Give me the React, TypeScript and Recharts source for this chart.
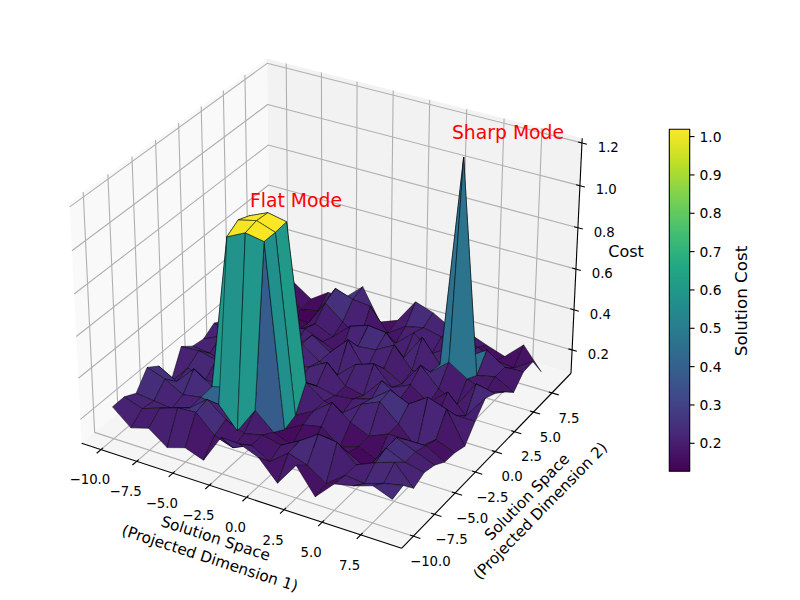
import React from "react";
import { ScatterChart, Scatter, XAxis, YAxis } from "recharts";

// ---- data ----
const gridX = [-10, -8.75, -7.5, -6.25, -5, -3.75, -2.5, -1.25, 0, 1.25, 2.5, 3.75, 5, 6.25, 7.5, 8.75];
const gridY = [-10, -8.75, -7.5, -6.25, -5, -3.75, -2.5, -1.25, 0, 1.25, 2.5, 3.75, 5, 6.25, 7.5, 8.75];
// one row per gridY value, one column per gridX value
const costRows = [
  [.239, .164, .19, .124, .152, .12, .26, .256, .22, .125, .24, .118, .21, .23, .26, .225],
  [.24, .21, .24, .27, .275, .19, .16, .2, .15, .22, .19, .13, .2, .19, .22, .24],
  [.21, .2, .19, .22, .29, .22, .18, .2, .18, .23, .29, .28, .2, .24, .27, .175],
  [.29, .26, .21, .225, .217, .115, .245, .165, .13, .14, .22, .18, .13, .26, .22, .2],
  [.25, .2, .29, .23, .973, 1.016, 1.0, .13, .18, .2, .13, .16, .12, .26, .22, .185],
  [.124, .22, .19, .18, 1.009, 1.03, 1.0, .15, .2, .27, .2, .16, .2, .2, .2, .15],
  [.254, .26, .24, .18, .987, 1.025, 1.007, .265, .2, .17, .24, .28, .2, .11, .18, .145],
  [.21, .2, .17, .24, .22, .24, .2, .2, .18, .19, .22, .29, .25, .31, .28, .127],
  [.2, .24, .2, .16, .28, .2, .22, .27, .18, .16, .26, .2, .14, .17, .2, .2],
  [.235, .18, .26, .2, .22, .26, .2, .16, .24, .27, .18, .22, .16, .24, .15, .265],
  [.2, .22, .18, .24, .17, .26, .2, .29, .16, .2, .15, .27, .18, .13, .26, .24],
  [.2, .17, .24, .2, .22, .18, .14, .21, .22, .27, .17, .19, .266, .21, .17, .2],
  [.2, .22, .18, .14, .2, .16, .24, .27, .26, .16, .29, .18, 1.203, .18, .2, .15],
  [.2, .18, .14, .13, .26, .19, .13, .2, .16, .24, .16, .22, .2, .26, .2, .205],
  [.18, .22, .13, .15, .29, .26, .25, .14, .2, .22, .2, .2, .2, .16, .15, .21],
  [.2, .2, .14, .2, .2, .28, .125, .16, .28, .25, .2, .2, .165, .135, .22, .112],
];
const xTicks = [-10, -7.5, -5, -2.5, 0, 2.5, 5, 7.5];
const yTicks = [-10, -7.5, -5, -2.5, 0, 2.5, 5, 7.5];
const zTicks = [0.2, 0.4, 0.6, 0.8, 1.0, 1.2];
const colorbarTicks = [0.2, 0.3, 0.4, 0.5, 0.6, 0.7, 0.8, 0.9, 1.0];
const viridisStops = ["#440154", "#482475", "#414487", "#355f8d", "#2a788e", "#21918c", "#22a884", "#44bf70", "#7ad151", "#bddf26", "#fde725"];
const colorMin = 0.127;
const colorMax = 1.019;
const xLim = [-10.9375, 9.6875];
const yLim = [-10.9375, 9.6875];
const zLim = [0.105, 1.199];

// ---- layout ----
const FONT = "'DejaVu Sans', sans-serif";
const SCALE = 2955, CX = 331, CY = 291.3;
const BOX = [1.19048, 1.19048, 0.89286];
const U = [0.866025, 0.5, 0];
const V = [-0.25, 0.433013, 0.866025];
const W = [0.433013, -0.75, 0.5];
const CB = { left: 669.3, right: 689.7, top: 129.3, bottom: 471.3 };

type P = { sx: number; sy: number; [k: string]: any };

const rel = (v: number, lim: number[], box: number) => ((v - lim[0]) / (lim[1] - lim[0]) - 0.5) * box;
const dot = (a: number[], b: number[]) => a[0] * b[0] + a[1] * b[1] + a[2] * b[2];
const toView = (x: number, y: number, z: number) => [rel(x, xLim, BOX[0]), rel(y, yLim, BOX[1]), rel(z, zLim, BOX[2])];
const project = (x: number, y: number, z: number): P => {
  const p = toView(x, y, z);
  const d = 10 - dot(W, p);
  return { sx: CX + (SCALE * dot(U, p)) / d, sy: CY - (SCALE * dot(V, p)) / d };
};
const depth = (x: number, y: number, z: number) => dot(W, toView(x, y, z));

const pad = (lim: number[]) => (lim[1] - lim[0]) / 48;
const x0 = xLim[0] - pad(xLim), x1 = xLim[1] + pad(xLim);
const y0 = yLim[0] - pad(yLim), y1 = yLim[1] + pad(yLim);
const z0 = zLim[0] - pad(zLim), z1 = zLim[1] + pad(zLim);
const tdx = (x1 - x0) / 12, tdy = (y1 - y0) / 12;

const viridis = (t: number) => {
  const c = Math.max(0, Math.min(1, t)) * (viridisStops.length - 1);
  const i = Math.min(viridisStops.length - 2, Math.floor(c));
  const f = c - i;
  const parse = (h: string) => [1, 3, 5].map((k) => parseInt(h.slice(k, k + 2), 16));
  const a = parse(viridisStops[i]), b = parse(viridisStops[i + 1]);
  return `rgb(${a.map((v, k) => Math.round(v + (b[k] - v) * f)).join(",")})`;
};

const noPoint = () => <g />;

const Shape = (key: string, pts: P[], o: { fill?: string; stroke?: string; sw?: number; so?: number; close?: boolean; grad?: boolean }) => (
  <Scatter
    key={key}
    data={pts}
    isAnimationActive={false}
    shape={noPoint}
    line={(p: any) => {
      const str = p.points.map((q: any) => `${q.x},${q.y}`).join(" ");
      const common = { points: str, stroke: o.stroke ?? "none", strokeWidth: o.sw ?? 1, strokeOpacity: o.so ?? 1, strokeLinejoin: "round" as const };
      if (o.grad) {
        return (
          <g>
            <defs>
              <linearGradient id="cbGradient" x1="0" y1="1" x2="0" y2="0">
                {viridisStops.map((c, i) => (
                  <stop key={c} offset={i / (viridisStops.length - 1)} stopColor={c} />
                ))}
              </linearGradient>
            </defs>
            <polygon {...common} fill="url(#cbGradient)" />
          </g>
        );
      }
      return o.close ? <polygon {...common} fill={o.fill ?? "none"} /> : <polyline {...common} fill="none" />;
    }}
  />
);

const Texts = (key: string, items: P[], o: { size: number; color?: string; anchor?: string }) => (
  <Scatter
    key={key}
    data={items}
    isAnimationActive={false}
    shape={(p: any) => (
      <text
        x={p.cx}
        y={p.cy}
        dy=".36em"
        fontFamily={FONT}
        fontSize={o.size}
        fill={o.color ?? "#000"}
        textAnchor={(o.anchor ?? "middle") as any}
        transform={p.payload.rot ? `rotate(${p.payload.rot} ${p.cx} ${p.cy})` : undefined}
      >
        {p.payload.label}
      </text>
    )}
  />
);

const fmt = (v: number) => v.toFixed(1).replace("-", "\u2212");

// panes
const paneX = [project(x0, y0, z0), project(x0, y1, z0), project(x0, y1, z1), project(x0, y0, z1)];
const paneY = [project(x0, y1, z0), project(x1, y1, z0), project(x1, y1, z1), project(x0, y1, z1)];
const paneZ = [project(x0, y0, z0), project(x1, y0, z0), project(x1, y1, z0), project(x0, y1, z0)];

// surface faces, far to near
const faces: { pts: P[]; fill: string; depth: number }[] = [];
for (let j = 0; j < gridY.length - 1; j++) {
  for (let i = 0; i < gridX.length - 1; i++) {
    const c = [[i, j], [i + 1, j], [i + 1, j + 1], [i, j + 1]];
    const zs = c.map(([a, b]) => costRows[b][a]);
    const avg = zs.reduce((s, v) => s + v, 0) / 4;
    faces.push({
      pts: c.map(([a, b]) => project(gridX[a], gridY[b], costRows[b][a])),
      fill: viridis((avg - colorMin) / (colorMax - colorMin)),
      depth: c.reduce((s, [a, b]) => s + depth(gridX[a], gridY[b], costRows[b][a]), 0) / 4,
    });
  }
}
faces.sort((a, b) => a.depth - b.depth);

const cbY = (v: number) => CB.bottom - ((v - colorMin) / (colorMax - colorMin)) * (CB.bottom - CB.top);
const shift = (p: P, dx: number, dy: number, extra: any) => ({ sx: p.sx + dx, sy: p.sy + dy, ...extra });

export default function App() {
  const GRID = { stroke: "#b0b0b0", sw: 1.11 };
  const AXIS = { stroke: "#000", sw: 1.11 };
  return (
    <div style={{ position: "absolute", left: 0, top: 0, width: 800, height: 600 }}>
      <ScatterChart width={800} height={600} margin={{ top: 0, right: 0, bottom: 0, left: 0 }}>
        <XAxis type="number" dataKey="sx" domain={[0, 800]} hide />
        <YAxis type="number" dataKey="sy" domain={[0, 600]} reversed hide />

        {Shape("paneX", paneX, { fill: "#f9f9f9", close: true })}
        {Shape("paneY", paneY, { fill: "#f2f2f2", close: true })}
        {Shape("paneZ", paneZ, { fill: "#f5f5f5", close: true })}

        {xTicks.map((t) => Shape(`gx${t}`, [project(t, y0, z0), project(t, y1, z0), project(t, y1, z1)], GRID))}
        {yTicks.map((t) => Shape(`gy${t}`, [project(x1, t, z0), project(x0, t, z0), project(x0, t, z1)], GRID))}
        {zTicks.map((t) => Shape(`gz${t}`, [project(x0, y0, t), project(x0, y1, t), project(x1, y1, t)], GRID))}

        {Shape("axisX", [project(x0, y0, z0), project(x1, y0, z0)], AXIS)}
        {Shape("axisY", [project(x1, y0, z0), project(x1, y1, z0)], AXIS)}
        {Shape("axisZ", [project(x1, y1, z0), project(x1, y1, z1)], AXIS)}
        {xTicks.map((t) => Shape(`tx${t}`, [project(t, y0 + 0.12 * tdy, z0), project(t, y0 - 0.25 * tdy, z0)], AXIS))}
        {yTicks.map((t) => Shape(`ty${t}`, [project(x1 - 0.12 * tdx, t, z0), project(x1 + 0.25 * tdx, t, z0)], AXIS))}
        {zTicks.map((t) => Shape(`tz${t}`, [project(x1 - 0.14 * tdx, y1, t), project(x1 + 0.18 * tdx, y1, t)], AXIS))}

        {faces.map((f, i) => Shape(`f${i}`, f.pts, { fill: f.fill, close: true, stroke: "#000", sw: 0.6, so: 0.85 }))}

        {Texts("xLabels", xTicks.map((t) => shift(project(t, y0, z0), -11, 30, { label: fmt(t) })), { size: 13.3 })}
        {Texts("yLabels", yTicks.map((t) => shift(project(x1, t, z0), 17, 25, { label: fmt(t) })), { size: 13.3 })}
        {Texts("zLabels", zTicks.map((t) => shift(project(x1, y1, t), 26.3, 4, { label: fmt(t) })), { size: 13.3 })}
        {Texts("axisTitles", [
          { sx: 215.7, sy: 538, label: "Solution Space", rot: 18 },
          { sx: 210, sy: 558, label: "(Projected Dimension 1)", rot: 18 },
          { sx: 526.7, sy: 496.7, label: "Solution Space", rot: -45.8 },
          { sx: 540, sy: 510.7, label: "(Projected Dimension 2)", rot: -45.8 },
        ], { size: 15.3 })}
        {Texts("zTitle", [{ sx: 626, sy: 251.7, label: "Cost" }], { size: 16 })}
        {Texts("annotations", [
          { sx: 296, sy: 200, label: "Flat Mode" },
          { sx: 508, sy: 132, label: "Sharp Mode" },
        ], { size: 18.8, color: "#ff0000" })}

        {Shape("cbFill", [
          { sx: CB.left, sy: CB.top }, { sx: CB.right, sy: CB.top }, { sx: CB.right, sy: CB.bottom }, { sx: CB.left, sy: CB.bottom },
        ], { grad: true, stroke: "#000", sw: 1.11 })}
        {colorbarTicks.map((t) => Shape(`cbt${t}`, [{ sx: CB.right, sy: cbY(t) }, { sx: CB.right + 4.86, sy: cbY(t) }], AXIS))}
        {Texts("cbLabels", colorbarTicks.map((t) => ({ sx: CB.right + 9.7, sy: cbY(t), label: t.toFixed(1) })), { size: 13.89, anchor: "start" })}
        {Texts("cbTitle", [{ sx: 740.7, sy: 301, label: "Solution Cost", rot: -90 }], { size: 16.7 })}
      </ScatterChart>
    </div>
  );
}
